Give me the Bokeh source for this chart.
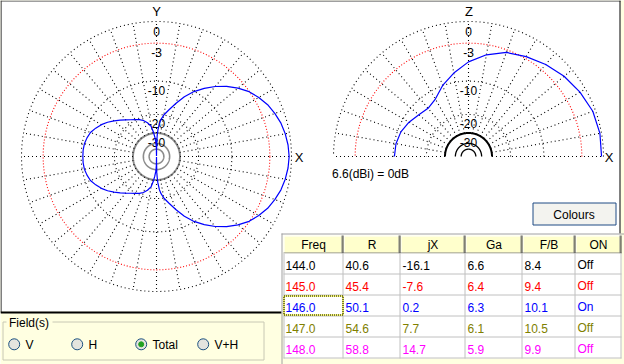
import numpy as np
from bokeh.plotting import figure
from bokeh.models import Range1d
from bokeh.embed import file_html
from bokeh.resources import INLINE
from bokeh.core.properties import value

# ---------------- data ----------------
# Horizontal (XY-plane) pattern of the 146 MHz trace, total field, dB relative to 6.6 dBi
az_deg = [0, 5, 10, 15, 20, 25, 30, 35, 40, 45, 50, 55, 60, 65, 70, 75, 80, 83, 85, 87, 88, 89,
          90, 91, 92, 93, 95, 97, 100, 105, 110, 115, 120, 125, 130, 135, 140, 145, 150, 155,
          160, 165, 170, 175, 180,
          185, 190, 195, 200, 205, 210, 215, 220, 225, 230, 235, 240, 245, 250, 255, 260, 263,
          265, 267, 268, 269, 270, 271, 272, 273, 275, 277, 280, 285, 290, 295, 300, 305, 310,
          315, 320, 325, 330, 335, 340, 345, 350, 355, 360]
az_db = [-0.3, -0.38, -0.55, -0.8, -1.2, -1.65, -2.3, -3.05, -4.1, -5.3, -6.7, -8.3, -10.1,
         -12.3, -15.0, -17.6, -20.0, -22.0, -24.0, -28.0, -31.5, -37.0,
         -99.0, -46.0, -41.0, -37.5, -33.0, -29.5, -25.5, -23.2, -21.6, -20.6, -19.8, -18.9,
         -17.8, -16.6, -15.3, -14.0, -12.9, -12.0, -11.2, -10.8, -10.5, -10.4, -10.4,
         -10.4, -10.5, -10.8, -11.2, -12.0, -12.9, -14.0, -15.3, -16.6, -17.8, -18.9, -19.8,
         -20.6, -21.6, -23.2, -25.5, -29.5, -33.0, -37.5, -41.0, -46.0, -99.0, -37.0, -31.5,
         -28.0, -24.0, -22.0, -20.0, -17.6, -15.0, -12.3, -10.1, -8.3, -6.7, -5.3, -4.1,
         -3.05, -2.3, -1.65, -1.2, -0.8, -0.55, -0.38, -0.3]

# Vertical (XZ-plane) pattern, elevation angle from +X through zenith to -X
el_deg = [0, 10, 20, 30, 40, 50, 60, 70, 80, 90, 100, 110, 120, 130, 140, 150, 160, 170, 180]
el_db = [-0.25, -0.2, -0.35, -0.82, -1.35, -2.0, -2.7, -3.4, -4.6, -6.1, -8.0, -9.95, -12.2,
         -13.1, -12.6, -11.6, -10.8, -10.4, -10.3]

ring_db = [0, -3, -10, -20, -30]
ring_labels = ["0", "-3", "-10", "-20", "-30"]
inner_db = [-40, -50]
spoke_step_deg = 10
ref_text = "6.6(dBi) = 0dB"

table_head = ["Freq", "R", "jX", "Ga", "F/B", "ON"]
freq = [144.0, 145.0, 146.0, 147.0, 148.0]
res_r = [40.6, 45.4, 50.1, 54.6, 58.8]
res_jx = [-16.1, -7.6, 0.2, 7.7, 14.7]
gain = [6.6, 6.4, 6.3, 6.1, 5.9]
fb = [8.4, 9.4, 10.1, 10.5, 9.9]
shown = ["Off", "Off", "On", "Off", "Off"]
row_colors = ["#000000", "#FF0000", "#0000FF", "#808000", "#FF00FF"]

field_options = ["V", "H", "Total", "V+H"]
field_selected = "Total"

# ---------------- layout / style ----------------
FONT = value("Liberation Sans")
YELLOW = "#FFFFE1"
HEAD = "#FFFFCC"
R0 = 135.0
LEFT_C = (156.0, 156.0)
Z_C = (468.0, 156.0)
W, H = 624, 364


def rad(db):
    return R0 * 0.89 ** (-np.asarray(db, dtype=float) / 2.0)


def arc_xy(c, r, a0, a1, n=400):
    t = np.radians(np.linspace(a0, a1, n))
    return c[0] + r * np.cos(t), c[1] - r * np.sin(t)


p = figure(width=W, height=H, x_range=Range1d(0, W), y_range=Range1d(H, 0),
           output_backend="svg", toolbar_location=None, min_border=0,
           x_axis_location=None, y_axis_location=None,
           background_fill_color=YELLOW, border_fill_color=YELLOW, outline_line_color=None)
p.grid.visible = False

# white drawing panel with its frame
p.quad(left=[0], right=[620], top=[0], bottom=[311], fill_color="white", line_color=None)
p.line([0, 281], [312, 312], line_color="black", line_width=2)
p.line([0.5, 0.5], [0, 312], line_color="black", line_width=1)
p.line([0, 620], [0.5, 0.5], line_color="#404040", line_width=1)
p.line([619.5, 619.5], [0, 233], line_color="black", line_width=1)


def polar_grid(c, a0, a1, inner_color, inner_w):
    # dotted rings
    for db in ring_db[:-1]:
        xs, ys = arc_xy(c, rad(db), a0, a1)
        if db == -3:
            p.line(xs, ys, line_color="#FF0000", line_dash="1 2", line_width=1.1)
        else:
            p.line(xs, ys, line_color="black", line_dash="1 3", line_width=1.1)
    # solid inner rings
    xs, ys = arc_xy(c, rad(-30), a0, a1)
    p.line(xs, ys, line_color=inner_color, line_width=2)
    for db in inner_db:
        xs, ys = arc_xy(c, rad(db), a0, a1)
        p.line(xs, ys, line_color=inner_color, line_width=inner_w)
    # spokes
    angs = np.radians(np.arange(a0, a1 + 0.1, spoke_step_deg))
    r1, r2 = rad(-30), rad(0)
    sx = [[c[0] + r1 * np.cos(a), c[0] + r2 * np.cos(a)] for a in angs]
    sy = [[c[1] - r1 * np.sin(a), c[1] - r2 * np.sin(a)] for a in angs]
    p.multi_line(sx, sy, line_color="black", line_dash="1 3", line_width=1.1)
    # ring labels
    p.text(x=[c[0]] * len(ring_db), y=[c[1] - rad(db) + 9.5 for db in ring_db], text=ring_labels,
           text_font=FONT, text_font_size="12px", text_align="center", text_baseline="middle",
           text_color="black")


polar_grid(LEFT_C, 0, 360, "#8C8C8C", 1.6)
polar_grid(Z_C, 0, 180, "black", 1.3)

# azimuth pattern
th = np.radians(az_deg)
r = rad(az_db)
p.line(LEFT_C[0] + r * np.cos(th), LEFT_C[1] - r * np.sin(th), line_color="#0000FF", line_width=1.2)

# elevation pattern
th = np.radians(el_deg)
r = rad(el_db)
p.line(Z_C[0] + r * np.cos(th), Z_C[1] - r * np.sin(th), line_color="#0000FF", line_width=1.2)

# axis letters
p.text(x=[156, 298.5, 468.5, 608.5], y=[10.5, 156.5, 10.5, 157], text=["Y", "X", "Z", "X"],
       text_font=FONT, text_font_size="13px", text_align="center", text_baseline="middle",
       text_color="black")
p.text(x=[331.5], y=[173.5], text=[ref_text], text_font=FONT, text_font_size="12px",
       text_align="left", text_baseline="middle", text_color="black")

# Colours button
p.quad(left=[532.5], right=[615.5], top=[202.5], bottom=[224.5], fill_color="#F3F3EF",
       line_color="#1E4A84", line_width=1)
p.text(x=[573.5], y=[214], text=["Colours"], text_font=FONT, text_font_size="12px",
       text_align="center", text_baseline="middle", text_color="black")

# ---------------- table ----------------
col_l = [283, 343, 400, 465, 522, 575]
col_r = [343, 400, 465, 522, 575, 621]
head_top, head_bot = 235, 253
row_h = 21
n_rows = len(freq)
p.line([281.5, 281.5], [233, 364], line_color="#A0A0A0", line_width=1)
p.line([281, 624], [233.5, 233.5], line_color="#A0A0A0", line_width=1)
p.quad(left=col_l, right=col_r, top=[head_top] * 6, bottom=[head_bot] * 6,
       fill_color=HEAD, line_color=None)
# header bevels
p.segment(x0=col_l, y0=[head_top + 0.5] * 6, x1=col_r, y1=[head_top + 0.5] * 6, line_color="white")
p.segment(x0=[c + 0.5 for c in col_l], y0=[head_top] * 6, x1=[c + 0.5 for c in col_l],
          y1=[head_bot] * 6, line_color="white")
p.segment(x0=col_l, y0=[head_bot - 0.5] * 6, x1=col_r, y1=[head_bot - 0.5] * 6, line_color="#808080")
p.segment(x0=[c - 1.5 for c in col_r], y0=[head_top] * 6, x1=[c - 1.5 for c in col_r],
          y1=[head_bot] * 6, line_color="#808080")
p.segment(x0=[c - 0.5 for c in col_r], y0=[head_top] * 6, x1=[c - 0.5 for c in col_r],
          y1=[head_bot] * 6, line_color="#404040")
p.text(x=[(a + b) / 2 for a, b in zip(col_l, col_r)], y=[244.5] * 6, text=table_head,
       text_font=FONT, text_font_size="12px", text_align="center", text_baseline="middle",
       text_color="black")
# body
body_bot = head_bot + row_h * n_rows
p.quad(left=[283], right=[621], top=[head_bot], bottom=[body_bot], fill_color="white", line_color=None)
row_lines = [head_bot + row_h * (k + 1) - 0.5 for k in range(n_rows)]
p.segment(x0=[283] * n_rows, y0=row_lines, x1=[621] * n_rows, y1=row_lines, line_color="#C0C0C0")
vx = [283.5] + [c - 0.5 for c in col_r]
p.segment(x0=vx, y0=[head_bot] * len(vx), x1=vx, y1=[body_bot] * len(vx), line_color="#C0C0C0")

columns = [[f"{v:.1f}" for v in freq], [f"{v:.1f}" for v in res_r], [f"{v:.1f}" for v in res_jx],
           [f"{v:.1f}" for v in gain], [f"{v:.1f}" for v in fb], shown]
row_y = [head_bot + row_h * k + 11.5 for k in range(n_rows)]
for ci, col in enumerate(columns):
    p.text(x=[col_l[ci] + 2] * n_rows, y=row_y, text=col, text_font=FONT, text_font_size="12px",
           text_align="left", text_baseline="middle", text_color=row_colors)

# focus rectangle on the selected (146 MHz) cell
sel = shown.index("On")
fy0, fy1 = head_bot + row_h * sel + 0.5, head_bot + row_h * (sel + 1) - 1.5
fx = [283.5, 342.5, 342.5, 283.5, 283.5]
fyy = [fy0, fy0, fy1, fy1, fy0]
p.line(fx, fyy, line_color="#FFFF00", line_width=1)
p.line(fx, fyy, line_color="black", line_width=1, line_dash="1 1")

# ---------------- Field(s) group box ----------------
gb = "#C8C8B4"
p.line([52, 263.5, 263.5, 2.5, 2.5, 6], [321.5, 321.5, 359.5, 359.5, 321.5, 321.5],
       line_color=gb, line_width=1)
p.text(x=[8.5], y=[322.5], text=["Field(s)"], text_font=FONT, text_font_size="12px",
       text_align="left", text_baseline="middle", text_color="black")
rb_x = [13.7, 76.7, 140.7, 202.7]
rb_y = 343.8
p.scatter(x=rb_x, y=[rb_y] * 4, size=11, marker="circle", fill_color="#E4E4DE",
          line_color="#1C5180", line_width=1)
si = field_options.index(field_selected)
p.scatter(x=[rb_x[si]], y=[rb_y], size=5, marker="circle", fill_color="#21A121", line_color="#21A121")
p.text(x=[x + 11.3 for x in rb_x], y=[rb_y + 0.5] * 4, text=field_options, text_font=FONT,
       text_font_size="12px", text_align="left", text_baseline="middle", text_color="black")

open("out.html", "w").write(file_html(p, INLINE))
